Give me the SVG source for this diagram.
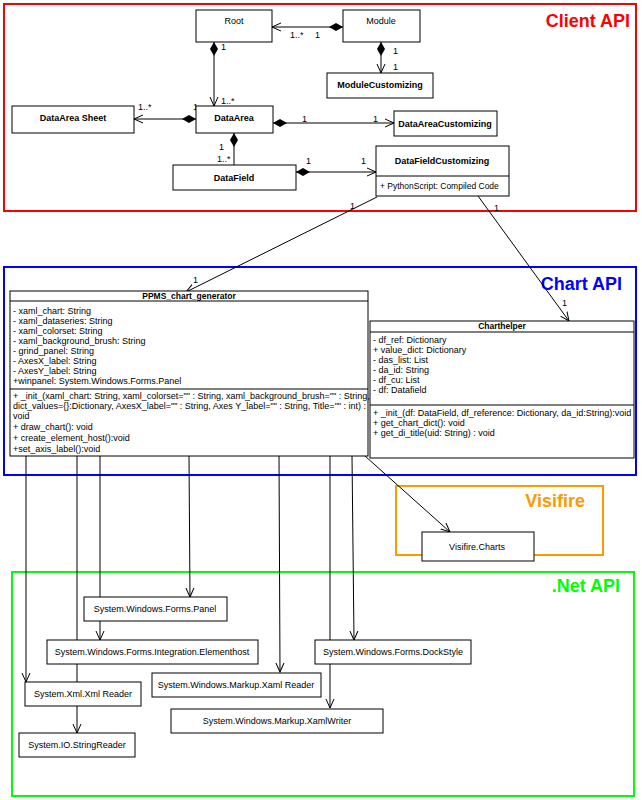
<svg xmlns="http://www.w3.org/2000/svg" width="642" height="800" viewBox="0 0 642 800">
<style>
text{font-family:"Liberation Sans",Arial,sans-serif;font-size:9px;fill:#000}
.b{font-weight:bold}
.c{text-anchor:middle}
.box{fill:#fff;stroke:#000;stroke-width:1}
.ln{stroke:#000;stroke-width:1;fill:none}
.pk{fill:none;stroke-width:2}
.t{font-size:18px;font-weight:bold;text-anchor:end}
</style>
<defs>
<marker id="ar" markerWidth="10" markerHeight="10" refX="9" refY="5" orient="auto" markerUnits="userSpaceOnUse"><path d="M0,1 L9,5 L0,9" fill="none" stroke="#000"/></marker>
<marker id="dm" markerWidth="16" markerHeight="10" refX="15" refY="5" orient="auto-start-reverse" markerUnits="userSpaceOnUse"><path d="M1,5 L8,1 L15,5 L8,9 Z" fill="#000"/></marker>
</defs>
<rect fill="#fff" width="642" height="800"/>
<g id="packages">
<rect class="pk" x="4" y="4" width="632" height="207" stroke="#f00"/>
<text class="t" x="630" y="27" style="fill:#f00">Client API</text>
<rect class="pk" x="4" y="267" width="632" height="208" stroke="#00f"/>
<text class="t" x="622" y="290" style="fill:#00f">Chart API</text>
<rect class="pk" x="396" y="486" width="207" height="69" stroke="#f90"/>
<text class="t" x="585" y="507" style="fill:#f90">Visifire</text>
<rect class="pk" x="12" y="572" width="622" height="224" stroke="#0f0"/>
<text class="t" x="620" y="592" style="fill:#0f0">.Net API</text>
</g>
<g id="connectors">
<line class="ln" x1="343" y1="27" x2="272" y2="27" marker-start="url(#dm)" marker-end="url(#ar)"/>
<line class="ln" x1="214" y1="42" x2="214" y2="106" marker-start="url(#dm)" marker-end="url(#ar)"/>
<line class="ln" x1="381" y1="42" x2="381" y2="73" marker-start="url(#dm)" marker-end="url(#ar)"/>
<line class="ln" x1="196" y1="119" x2="134" y2="119" marker-start="url(#dm)" marker-end="url(#ar)"/>
<line class="ln" x1="273" y1="123" x2="394" y2="123" marker-start="url(#dm)" marker-end="url(#ar)"/>
<line class="ln" x1="234" y1="133" x2="234" y2="165" marker-start="url(#dm)"/>
<line class="ln" x1="296" y1="172" x2="376" y2="172" marker-start="url(#dm)" marker-end="url(#ar)"/>
<line class="ln" x1="377" y1="197" x2="186" y2="292" marker-end="url(#ar)"/>
<line class="ln" x1="478" y1="196" x2="569" y2="321" marker-end="url(#ar)"/>
<line class="ln" x1="365" y1="456" x2="450" y2="532" marker-end="url(#ar)"/>
<line class="ln" x1="26" y1="456" x2="26" y2="682" marker-end="url(#ar)"/>
<line class="ln" x1="77" y1="456" x2="77" y2="733" marker-end="url(#ar)"/>
<line class="ln" x1="100" y1="456" x2="100" y2="640" marker-end="url(#ar)"/>
<line class="ln" x1="189" y1="456" x2="190" y2="597" marker-end="url(#ar)"/>
<line class="ln" x1="279" y1="456" x2="280" y2="672" marker-end="url(#ar)"/>
<line class="ln" x1="330" y1="456" x2="330" y2="708" marker-end="url(#ar)"/>
<line class="ln" x1="352" y1="456" x2="354" y2="640" marker-end="url(#ar)"/>
<text x="290" y="38">1..*</text><text x="315" y="38">1</text>
<text x="221" y="50">1</text><text x="221" y="104">1..*</text>
<text x="393" y="54">1</text><text x="393" y="70">1</text>
<text x="138" y="110">1..*</text><text x="193" y="110">1</text>
<text x="302" y="122">1</text><text x="373" y="122">1</text>
<text x="219" y="150">1</text><text x="217" y="162">1..*</text>
<text x="306" y="164">1</text><text x="361" y="164">1</text>
<text x="350" y="209">1</text><text x="193" y="283">1</text>
<text x="494" y="211">1</text><text x="562" y="306">1</text>
</g>
<g id="Root"><rect class="box" x="196" y="10" width="76" height="32"/><text class="c" x="234" y="24">Root</text></g>
<g id="Module"><rect class="box" x="343" y="10" width="77" height="32"/><text class="c" x="381" y="24">Module</text></g>
<g id="ModuleCustomizing"><rect class="box" x="327" y="73" width="106" height="25"/><text class="c b" x="380" y="88">ModuleCustomizing</text></g>
<g id="DataAreaSheet"><rect class="box" x="12" y="106" width="122" height="27"/><text class="c b" x="73" y="121">DataArea Sheet</text></g>
<g id="DataArea"><rect class="box" x="196" y="106" width="77" height="27"/><text class="c b" x="234" y="121">DataArea</text></g>
<g id="DataAreaCustomizing"><rect class="box" x="394" y="111" width="103" height="25"/><text class="c b" x="445" y="127">DataAreaCustomizing</text></g>
<g id="DataField"><rect class="box" x="173" y="165" width="123" height="25"/><text class="c b" x="234" y="181">DataField</text></g>
<g id="DataFieldCustomizing"><rect class="box" x="376" y="146" width="133" height="50"/><line class="ln" x1="376" y1="176" x2="509" y2="176"/><text class="c b" x="442" y="164">DataFieldCustomizing</text><text x="380" y="189" style="font-size:8.5px">+ PythonScript: Compiled Code</text></g>
<g id="PPMS_chart_generator"><rect class="box" x="10" y="291" width="358" height="165"/><line class="ln" x1="10" y1="301" x2="368" y2="301"/><line class="ln" x1="10" y1="389" x2="368" y2="389"/>
<text class="c b" x="189" y="299" style="font-size:8.5px">PPMS_chart_generator</text>
<g style="font-size:8.5px"><text x="13" y="314">- xaml_chart: String</text><text x="13" y="324">- xaml_dataseries: String</text><text x="13" y="334">- xaml_colorset: String</text><text x="13" y="344">- xaml_background_brush: String</text><text x="13" y="354">- grind_panel: String</text><text x="13" y="364">- AxesX_label: String</text><text x="13" y="374">- AxesY_label: String</text><text x="13" y="384">+winpanel: System.Windows.Forms.Panel</text>
<g style="font-size:7.7px"><text x="13" y="399">+ _init_(xaml_chart: String, xaml_colorset="" : String, xaml_background_brush="" : String,</text><text x="13" y="409">dict_values={}:Dictionary, AxesX_label="" : String, Axes Y_label="" : String, Title="" : int) :</text></g><text x="13" y="419">void</text><text x="13" y="430">+ draw_chart(): void</text><text x="13" y="441">+ create_element_host():void</text><text x="13" y="452">+set_axis_label():void</text></g></g>
<g id="Charthelper"><rect class="box" x="370" y="321" width="264" height="137"/><line class="ln" x1="370" y1="332" x2="634" y2="332"/><line class="ln" x1="370" y1="405" x2="634" y2="405"/>
<text class="c b" x="502" y="329" style="font-size:8.5px">Charthelper</text>
<g style="font-size:8.5px"><text x="373" y="343">- df_ref: Dictionary</text><text x="373" y="353">+ value_dict: Dictionary</text><text x="373" y="363">-  das_list: List</text><text x="373" y="373">- da_id: String</text><text x="373" y="383">- df_cu: List</text><text x="373" y="393">- df: Datafield</text>
<text x="373" y="416">+ _init_(df: DataField, df_reference: Dictionary, da_id:String):void</text><text x="373" y="426">+ get_chart_dict(): void</text><text x="373" y="436">+ get_di_title(uid: String) : void</text></g></g>
<g id="VisifireCharts"><rect class="box" x="422" y="532" width="112" height="29"/><text class="c" x="477" y="550">Visifire.Charts</text></g>
<g id="Panel"><rect class="box" x="84" y="597" width="143" height="24"/><text class="c" x="155" y="612">System.Windows.Forms.Panel</text></g>
<g id="Elementhost"><rect class="box" x="47" y="640" width="211" height="24"/><text class="c" x="152" y="655">System.Windows.Forms.Integration.Elementhost</text></g>
<g id="DockStyle"><rect class="box" x="315" y="640" width="156" height="24"/><text class="c" x="393" y="655">System.Windows.Forms.DockStyle</text></g>
<g id="XmlReader"><rect class="box" x="25" y="682" width="116" height="24"/><text class="c" x="83" y="697">System.Xml.Xml Reader</text></g>
<g id="XamlReader"><rect class="box" x="152" y="673" width="169" height="24"/><text class="c" x="236" y="688">System.Windows.Markup.Xaml Reader</text></g>
<g id="XamlWriter"><rect class="box" x="171" y="709" width="212" height="24"/><text class="c" x="277" y="724">System.Windows.Markup.XamlWriter</text></g>
<g id="StringReader"><rect class="box" x="19" y="733" width="116" height="24"/><text class="c" x="77" y="748">System.IO.StringReader</text></g>
</svg>
